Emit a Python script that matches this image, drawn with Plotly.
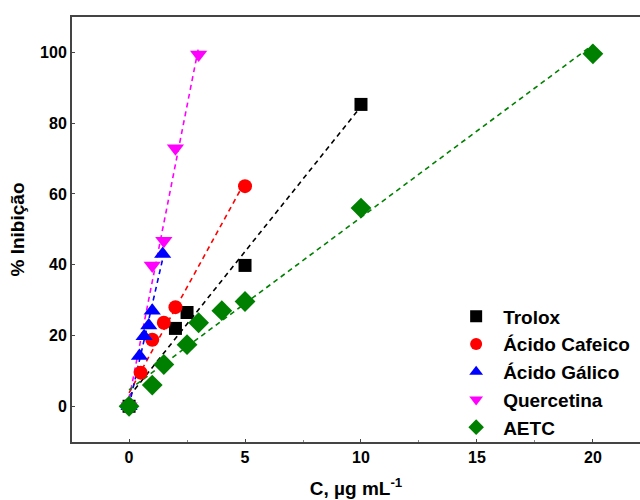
import numpy as np
import plotly.graph_objects as go

# Concentração (µg/mL) e % de inibição de cada padrão / extrato
trolox_c = [0, 2, 2.5, 5, 10]
trolox_inib = [0, 22, 26.5, 39.8, 85.3]

cafeico_c = [0, 0.5, 1, 1.5, 2, 5]
cafeico_inib = [0, 9.5, 18.8, 23.6, 28, 62.2]

galico_c = [0, 0.45, 0.65, 0.85, 1.0, 1.45]
galico_inib = [0, 14.2, 19.8, 22.8, 27, 43]

quercetina_c = [0, 1, 1.5, 2, 3]
quercetina_inib = [0, 39.8, 46.8, 72.9, 99.4]

aetc_c = [0, 1, 1.5, 2.5, 3, 4, 5, 10, 20]
aetc_inib = [0, 6, 11.8, 17.4, 23.6, 27, 29.6, 56, 99.6]

x_ticks = [0, 5, 10, 15, 20]
y_ticks = [0, 20, 40, 60, 80, 100]

series = [
    ("Trolox", trolox_c, trolox_inib, "#000000", "square", 13),
    ("Ácido Cafeico", cafeico_c, cafeico_inib, "#ff0000", "circle", 14),
    ("Ácido Gálico", galico_c, galico_inib, "#0000ff", "triangle-up", 15),
    ("Quercetina", quercetina_c, quercetina_inib, "#ff00ff", "triangle-down", 15),
    ("AETC", aetc_c, aetc_inib, "#008000", "diamond", 16),
]

fig = go.Figure()

# Retas de regressão linear (tracejadas)
for name, c, inib, color, sym, size in series:
    slope, icpt = np.polyfit(c, inib, 1)
    xs = np.array([min(c), max(c)])
    fig.add_trace(go.Scatter(
        x=xs, y=slope * xs + icpt, mode="lines",
        line=dict(color=color, width=1.6, dash="5px,4px"),
        showlegend=False, hoverinfo="skip",
    ))

# Pontos experimentais
for name, c, inib, color, sym, size in series:
    fig.add_trace(go.Scatter(
        x=c, y=inib, mode="markers", name=name,
        marker=dict(symbol=sym, size=size, color=color, line=dict(width=0)),
    ))

font_family = "Liberation Sans, Arial, sans-serif"

fig.update_layout(
    width=640, height=500,
    margin=dict(l=72, r=0, t=17, b=58),
    paper_bgcolor="white", plot_bgcolor="white",
    font=dict(family=font_family, color="black"),
    showlegend=True,
    legend=dict(
        x=0.664, y=0.34, xanchor="left", yanchor="top",
        bgcolor="rgba(0,0,0,0)",
        font=dict(size=19, family=font_family, color="black", weight="bold"),
        itemsizing="constant", itemwidth=44, tracegroupgap=0,
    ),
    xaxis=dict(
        range=[-2.46, 22.03], tickvals=x_ticks,
        showgrid=False, zeroline=False,
        showline=True, linecolor="#444", linewidth=2, mirror=True,
        ticks="inside", ticklen=3, tickcolor="#444",
        minor=dict(dtick=2.5, ticks="inside", ticklen=2, tickcolor="#888"),
        tickfont=dict(size=16, family=font_family, color="black", weight="bold"),
        title=dict(text="C, µg mL<sup>-1</sup>", standoff=16,
                   font=dict(size=19, family=font_family, color="black", weight="bold")),
    ),
    yaxis=dict(
        range=[-10.1, 110], tickvals=y_ticks,
        showgrid=False, zeroline=False,
        showline=True, linecolor="#444", linewidth=2,
        ticks="inside", ticklen=3, tickcolor="#444",
        tickfont=dict(size=16, family=font_family, color="black", weight="bold"),
        title=dict(text="% Inibição", standoff=10,
                   font=dict(size=19, family=font_family, color="black", weight="bold")),
    ),
)

fig.write_html("out.html")
